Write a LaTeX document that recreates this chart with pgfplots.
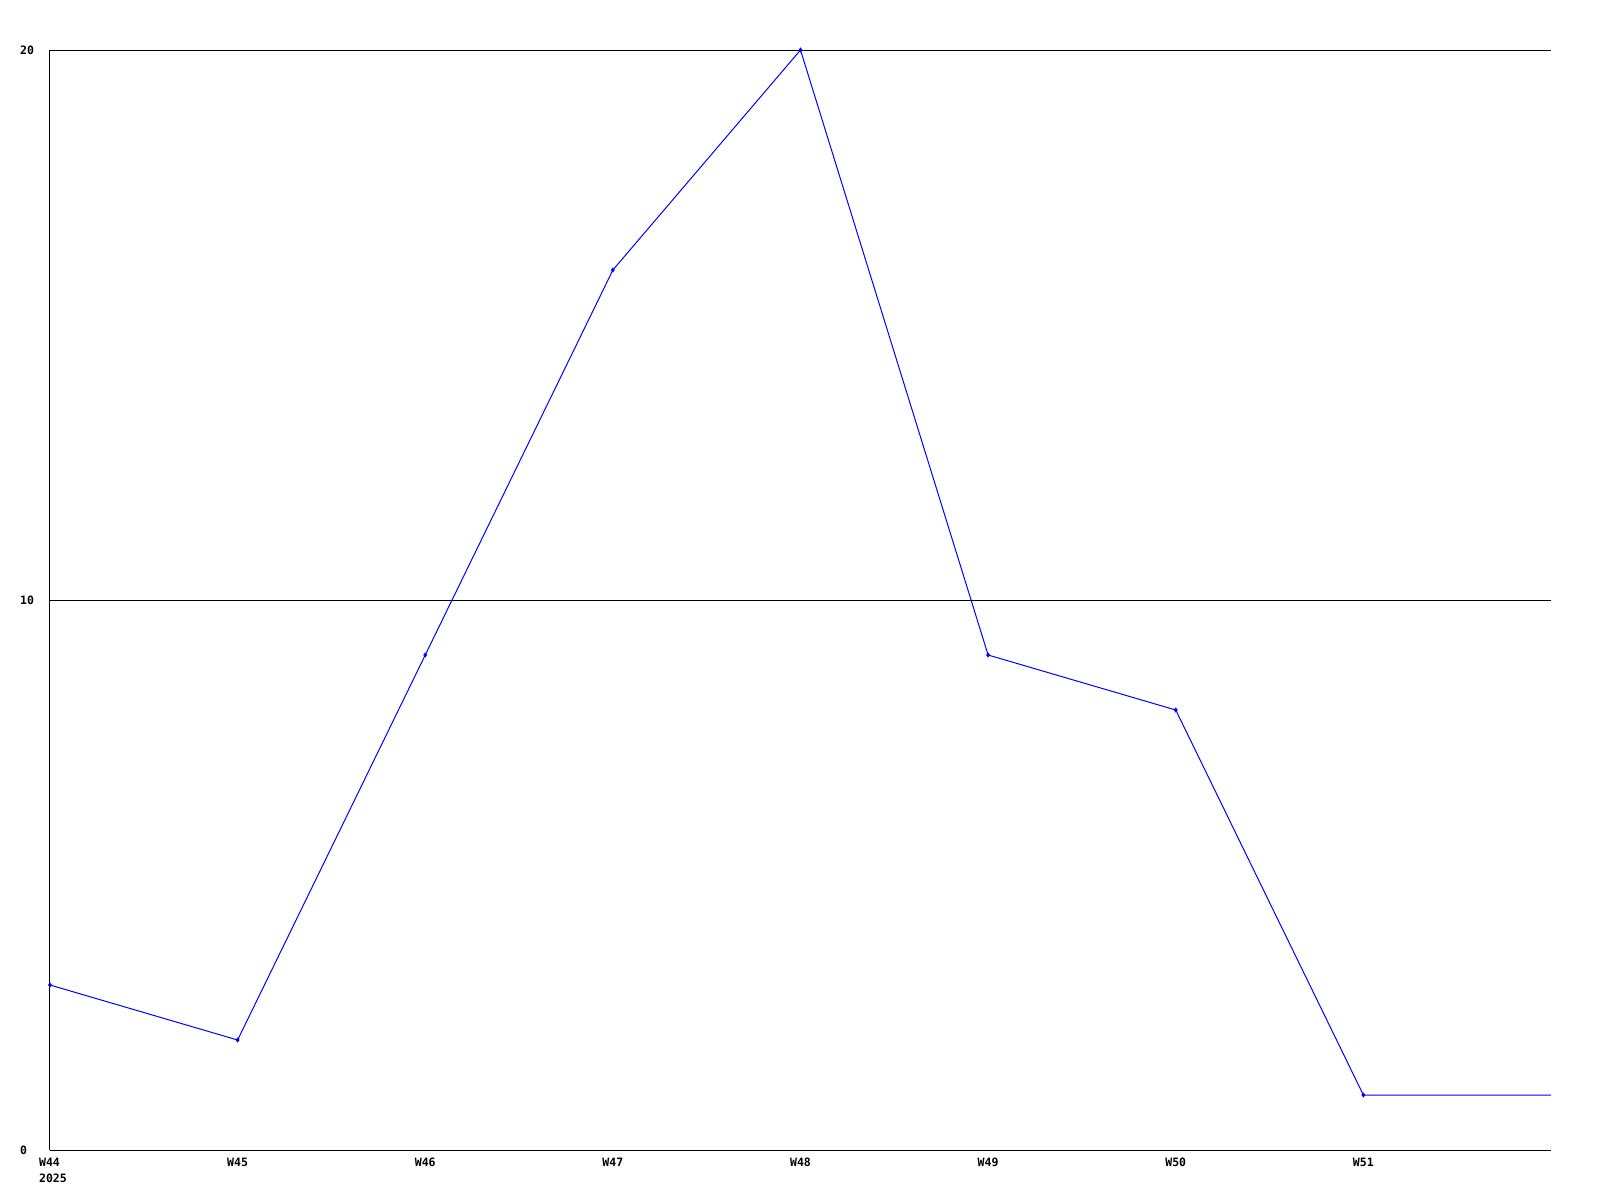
\documentclass[border=0pt]{standalone}
\usepackage{fontspec}
\setmainfont{DejaVu Sans Mono}
\usepackage{pgfplots}
\pgfplotsset{compat=1.18}

\begin{document}
\begin{tikzpicture}
% fixed page: 1600 x 1200 px, 1px = 1pt
\path[use as bounding box] (-50pt,-50pt) rectangle (1550pt,1150pt);
\begin{axis}[
  at={(0,0)}, anchor=origin,
  scale only axis, width=1501pt, height=1100pt,
  xmin=0, xmax=8, ymin=0, ymax=20,
  axis x line=bottom, axis y line=left,
  axis line style={-, line width=1pt, black},
  xtick={0,1,2,3,4,5,6,7}, ytick={0,10,20},
  xticklabels={{\hspace*{6pt}\shortstack[l]{W44\\[4pt]2025}},W45,W46,W47,W48,W49,W50,W51},
  major tick length=0pt,
  ymajorgrids, grid style={black, line width=1pt},
  /pgf/number format/assume math mode=true,
  every tick label/.append style={font=\fontsize{11.5}{14}\selectfont\bfseries, inner sep=0pt},
  xticklabel style={anchor=north, yshift=-8pt},
  yticklabel style={anchor=west, xshift=-30pt},
  clip=false,
]
\addplot[blue, line width=1pt, mark=diamond*, mark size=1.8pt,
  mark indices={1,2,3,4,5,6,7,8}] coordinates {
  (0,3) (1,2) (2,9) (3,16) (4,20) (5,9) (6,8) (7,1) (8,1)
};
\end{axis}
\end{tikzpicture}
\end{document}
